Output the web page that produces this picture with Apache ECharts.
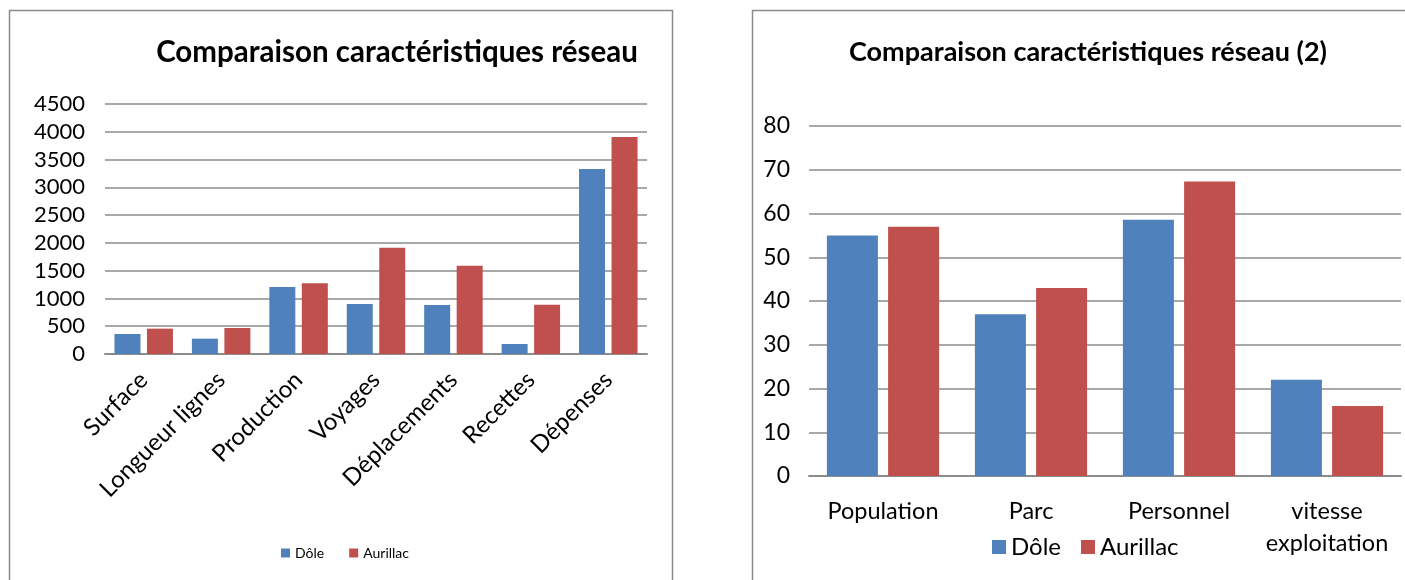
<!DOCTYPE html>
<html><head><meta charset="utf-8">
<script src="https://cdn.jsdelivr.net/npm/echarts@6/dist/echarts.min.js"></script>
<style>html,body{margin:0;padding:0;background:#fff}#c{width:1405px;height:580px}</style>
</head><body><div id="c"></div>
<script>
const cats1 = ['Surface','Longueur lignes','Production','Voyages','Déplacements','Recettes','Dépenses'];
const dole1 = [360, 276, 1206, 900, 882, 180, 3330];
const aur1  = [456, 468, 1272, 1914, 1590, 888, 3906];
const yTicks1 = {min:0, max:4500, interval:500};

const cats2 = ['Population','Parc','Personnel','vitesse\nexploitation'];
const dole2 = [55, 37, 58.6, 22];
const aur2  = [57, 43, 67.3, 16];
const yTicks2 = {min:0, max:80, interval:10};

const seriesNames = ['Dôle','Aurillac'];
const BLUE = '#4F81BD', RED = '#C0504D';
const FONT = 'Lato';
const gridLine = {show:true, lineStyle:{color:'#8c8c8c', width:1.5}};
const plain = v => String(v);

const chart = echarts.init(document.getElementById('c'), null, {renderer:'canvas'});
chart.setOption({
  animation:false,
  textStyle:{fontFamily:FONT, color:'#000'},
  graphic:[
    {type:'rect', shape:{x:9.5,y:10.5,width:663,height:600}, style:{fill:'none', stroke:'#8a8a8a', lineWidth:1.5}},
    {type:'rect', shape:{x:752.5,y:10.5,width:700,height:600}, style:{fill:'none', stroke:'#8a8a8a', lineWidth:1.5}}
  ],
  title:[
    {text:'Comparaison caractéristiques réseau', left:392, top:32, textAlign:'center',
     textStyle:{fontFamily:FONT, fontWeight:'bold', fontSize:29.5, color:'#000'}},
    {text:'Comparaison caractéristiques réseau (2)', left:1083, top:34, textAlign:'center',
     textStyle:{fontFamily:FONT, fontWeight:'bold', fontSize:27, color:'#000'}}
  ],
  legend:[
    {data:seriesNames, left:276, top:541, itemWidth:9, itemHeight:9, itemGap:25, icon:'rect',
     textStyle:{fontFamily:FONT, fontSize:14, color:'#000'}},
    {data:seriesNames, left:987, top:530, itemWidth:14, itemHeight:14, itemGap:20, icon:'rect',
     textStyle:{fontFamily:FONT, fontSize:24, color:'#000'}}
  ],
  grid:[
    {left:105, right:758, top:104, height:250, containLabel:false},
    {left:809, right:4, top:126, height:350, containLabel:false}
  ],
  xAxis:[
    {type:'category', gridIndex:0, data:cats1,
     axisLine:{lineStyle:{color:'#8c8c8c', width:2}}, axisTick:{show:false},
     axisLabel:{rotate:45, margin:22, fontFamily:FONT, fontSize:24, color:'#000', interval:0}},
    {type:'category', gridIndex:1, data:cats2,
     axisLine:{lineStyle:{color:'#8c8c8c', width:2}}, axisTick:{show:false},
     axisLabel:{margin:19, fontFamily:FONT, fontSize:23.5, lineHeight:32, color:'#000', interval:0}}
  ],
  yAxis:[
    {type:'value', gridIndex:0, min:yTicks1.min, max:yTicks1.max, interval:yTicks1.interval,
     axisLine:{show:false}, axisTick:{show:false}, splitLine:gridLine,
     axisLabel:{margin:20, fontFamily:FONT, fontSize:22, color:'#000', formatter:plain}},
    {type:'value', gridIndex:1, min:yTicks2.min, max:yTicks2.max, interval:yTicks2.interval,
     axisLine:{show:false}, axisTick:{show:false}, splitLine:gridLine,
     axisLabel:{margin:19, fontFamily:FONT, fontSize:23, color:'#000', formatter:plain}}
  ],
  series:[
    {name:seriesNames[0], type:'bar', xAxisIndex:0, yAxisIndex:0, data:dole1, barWidth:26, barGap:'25%', itemStyle:{color:BLUE}},
    {name:seriesNames[1], type:'bar', xAxisIndex:0, yAxisIndex:0, data:aur1, barWidth:26, barGap:'25%', itemStyle:{color:RED}},
    {name:seriesNames[0], type:'bar', xAxisIndex:1, yAxisIndex:1, data:dole2, barWidth:51, barGap:'20%', itemStyle:{color:BLUE}},
    {name:seriesNames[1], type:'bar', xAxisIndex:1, yAxisIndex:1, data:aur2, barWidth:51, barGap:'20%', itemStyle:{color:RED}}
  ]
});
</script></body></html>
